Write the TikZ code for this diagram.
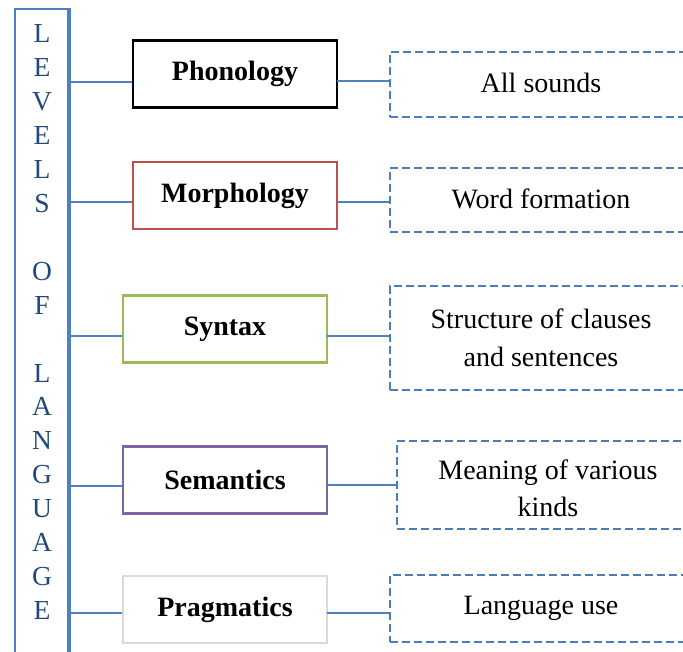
\documentclass[tikz,border=0pt]{standalone}
\usepackage{fontspec}
\setmainfont{Liberation Serif}
\definecolor{lineblue}{HTML}{4F81BD}
\definecolor{dashblue}{HTML}{4A7EBB}
\definecolor{letblue}{HTML}{1F497D}
\definecolor{redb}{HTML}{C0504D}
\definecolor{greenb}{HTML}{9BBB59}
\definecolor{purpb}{HTML}{8064A2}
\definecolor{grayb}{HTML}{D9D9D9}
\begin{document}
\begin{tikzpicture}[x=1pt,y=-1pt,
  lvlbox/.style={draw, line width=2.6pt, fill=white, minimum width=204pt, minimum height=67pt,
    inner sep=0pt, font=\fontsize{28}{34}\selectfont\bfseries},
  descbox/.style={draw=dashblue, line width=2.4pt, dash pattern=on 8pt off 4pt, minimum width=302pt,
    minimum height=66pt, inner sep=0pt, align=center, font=\fontsize{28}{37.5}\selectfont},
  conn/.style={draw=lineblue, line width=2pt},
  lett/.style={text=letblue, font=\fontsize{27.5}{30}\selectfont, inner sep=0pt}]
\clip (0,0) rectangle (683,652);
\fill[white] (0,0) rectangle (683,652);
% vertical bar
\node[draw=lineblue, line width=2pt, minimum width=53pt, minimum height=660pt, anchor=north west, inner sep=0pt] (bar) at (14,8) {};
\draw[lineblue, line width=4pt] (bar.north east) -- (bar.south east);
\foreach \ch [count=\i from 0] in {L,E,V,E,L,S,{},O,F,{},L,A,N,G,U,A,G,E}
  \node[lett] (l\i) at (42, 34+33.9*\i) {\ch};
% level boxes
\node[lvlbox, draw=black] (phon) at (235,74) {Phonology};
\node[lvlbox, draw=redb] (morph) at (235,195.5) {Morphology};
\node[lvlbox, draw=greenb] (syn) at (225,329) {Syntax};
\node[lvlbox, draw=purpb] (sem) at (225,480) {Semantics};
\node[lvlbox, draw=grayb] (prag) at (225,609.5) {Pragmatics};
% description boxes
\node[descbox, minimum height=65pt] (d1) at (541,84.5) {\raisebox{3pt}{All sounds}};
\node[descbox, minimum height=64pt] (d2) at (541,200) {\raisebox{2pt}{Word formation}};
\node[descbox, minimum height=104pt] (d3) at (541,338) {Structure of clauses\\and sentences};
\node[descbox, minimum height=88pt] (d4) at (548,485) {\parbox{300pt}{\centering\vspace*{7pt}Meaning of various\\kinds}};
\node[descbox, minimum height=67pt] (d5) at (541,608.5) {\raisebox{2pt}{Language use}};
% anchor coordinates on the bar
\coordinate (b1) at (67,82);
\coordinate (b2) at (67,202);
\coordinate (b3) at (67,336);
\coordinate (b4) at (67,486);
\coordinate (b5) at (67,613);
\coordinate (r1) at (337,81);
\coordinate (r2) at (337,202);
\coordinate (r3) at (327,336);
\coordinate (r4) at (327,485);
\coordinate (r5) at (327,613);
% connectors
\draw[conn] (b1) -- (b1 -| phon.west);
\draw[conn] (b2) -- (b2 -| morph.west);
\draw[conn] (b3) -- (b3 -| syn.west);
\draw[conn] (b4) -- (b4 -| sem.west);
\draw[conn] (b5) -- (b5 -| prag.west);
\draw[conn] (r1) -- (r1 -| d1.west);
\draw[conn] (r2) -- (r2 -| d2.west);
\draw[conn] (r3) -- (r3 -| d3.west);
\draw[conn] (r4) -- (r4 -| d4.west);
\draw[conn] (r5) -- (r5 -| d5.west);
\end{tikzpicture}
\end{document}
